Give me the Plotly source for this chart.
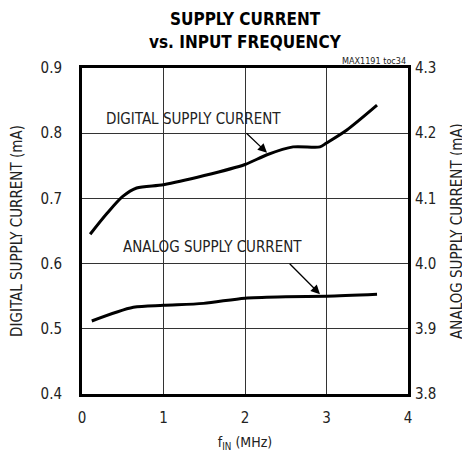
import plotly.graph_objects as go

# データ
freq_digital = [0.1, 0.3, 0.5, 0.67, 1.0, 1.5, 2.0, 2.27, 2.59, 2.92, 3.0, 3.25, 3.62]
digital_ma = [0.645, 0.676, 0.703, 0.716, 0.721, 0.735, 0.752, 0.767, 0.779, 0.779, 0.785, 0.805, 0.843]

freq_analog = [0.12, 0.63, 1.0, 1.49, 2.0, 2.5, 3.0, 3.62]
analog_ma = [3.912, 3.933, 3.936, 3.939, 3.947, 3.949, 3.950, 3.953]

x_ticks = [0, 1, 2, 3, 4]
left_ticks = [0.4, 0.5, 0.6, 0.7, 0.8, 0.9]
right_ticks = [3.8, 3.9, 4.0, 4.1, 4.2, 4.3]

FONT = "DejaVu Sans Condensed, DejaVu Sans"

fig = go.Figure()

fig.add_trace(go.Scatter(
    x=freq_digital, y=digital_ma, mode='lines',
    line=dict(color='black', width=3, shape='spline', smoothing=0.8),
    showlegend=False,
))

fig.add_trace(go.Scatter(
    x=freq_analog, y=analog_ma, mode='lines', yaxis='y2',
    line=dict(color='black', width=3, shape='spline', smoothing=0.8),
    showlegend=False,
))


def tf(size, color='#222222', weight='normal'):
    return dict(size=size, color=color, family=FONT, weight=weight)


axis_common = dict(
    showgrid=True, gridcolor='#333333', gridwidth=1,
    showline=True, linecolor='black', linewidth=3, mirror=True,
    zeroline=False, ticks='', tickfont=tf(15), automargin=False,
)

# ページ本体の8pxマージン分を差し引く
fig.update_layout(
    width=470, height=458,
    margin=dict(l=74, r=70, t=60, b=72),
    paper_bgcolor='white', plot_bgcolor='white',
    font=tf(14),
    xaxis=dict(range=[0, 4], tickvals=x_ticks, ticklabelstandoff=8,
               title=dict(text="f<sub>IN</sub> (MHz)", font=tf(14), standoff=12),
               **axis_common),
    yaxis=dict(range=[0.4, 0.9], tickvals=left_ticks, tickformat='.1f', ticklabelstandoff=14,
               title=dict(text="DIGITAL SUPPLY CURRENT (mA)", font=tf(15), standoff=18),
               **axis_common),
    yaxis2=dict(range=[3.8, 4.3], tickvals=right_ticks, tickformat='.1f', overlaying='y',
                side='right', showgrid=False, ticks='', zeroline=False, automargin=False,
                tickfont=tf(15), ticklabelstandoff=6,
                title=dict(text="ANALOG SUPPLY CURRENT (mA)", font=tf(15), standoff=16)),
)

# タイトル
fig.add_annotation(
    text="<b>SUPPLY CURRENT</b>",
    x=0.5, y=1, xref='paper', yref='paper', xanchor='center', yanchor='top',
    yshift=60, borderpad=0, showarrow=False, font=tf(17, 'black', 'bold'),
)
fig.add_annotation(
    text="<b>vs. INPUT FREQUENCY</b>",
    x=0.5, y=1, xref='paper', yref='paper', xanchor='center', yanchor='middle',
    yshift=26, borderpad=0, showarrow=False, font=tf(17, 'black', 'bold'),
)
fig.add_annotation(
    text="MAX1191 toc34", x=1, y=1, xref='paper', yref='paper',
    xanchor='right', yanchor='bottom', showarrow=False, font=tf(9),
)

# ラベル
fig.add_annotation(text="DIGITAL SUPPLY CURRENT", x=1.37, y=0.822, xref='x', yref='y',
                   showarrow=False, font=tf(15))
fig.add_annotation(x=2.27, y=0.770, ax=2.0, ay=0.802, xref='x', yref='y', axref='x', ayref='y',
                   text='', showarrow=True, arrowhead=2, arrowsize=1.4, arrowwidth=1.3,
                   arrowcolor='black')

fig.add_annotation(text="ANALOG SUPPLY CURRENT", x=1.60, y=4.025, xref='x', yref='y2',
                   showarrow=False, font=tf(15))
fig.add_annotation(x=2.92, y=3.953, ax=2.53, ay=4.002, xref='x', yref='y2', axref='x', ayref='y2',
                   text='', showarrow=True, arrowhead=2, arrowsize=1.4, arrowwidth=1.3,
                   arrowcolor='black')

fig.write_html("out.html")
